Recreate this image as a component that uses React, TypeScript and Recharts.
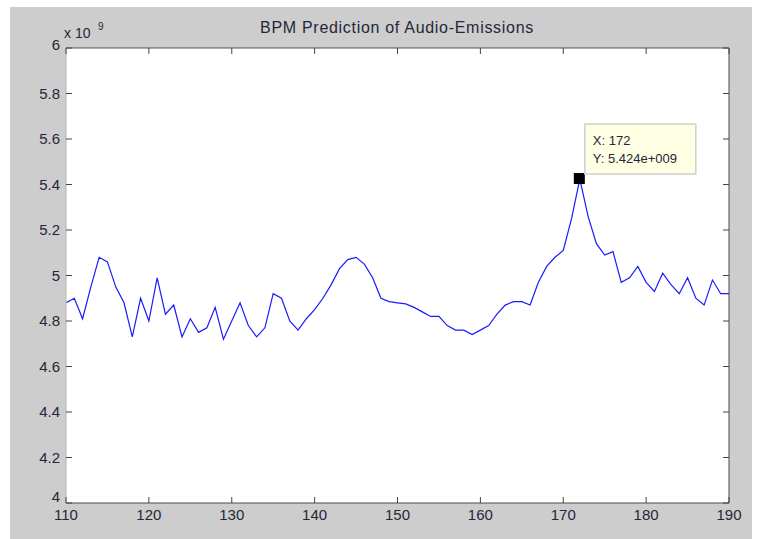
import React from "react";
import {
  LineChart,
  Line,
  XAxis,
  YAxis,
  CartesianGrid,
  ReferenceDot,
} from "recharts";

// BPM axis positions and predicted emission (x 10^9)
const bpm = [
  110, 111, 112, 113, 114, 115, 116, 117, 118, 119, 120, 121, 122, 123, 124,
  125, 126, 127, 128, 129, 130, 131, 132, 133, 134, 135, 136, 137, 138, 139,
  140, 141, 142, 143, 144, 145, 146, 147, 148, 149, 150, 151, 152, 153, 154,
  155, 156, 157, 158, 159, 160, 161, 162, 163, 164, 165, 166, 167, 168, 169,
  170, 171, 172, 173, 174, 175, 176, 177, 178, 179, 180, 181, 182, 183, 184,
  185, 186, 187, 188, 189, 190,
];

const emission = [
  4.88, 4.9, 4.81, 4.95, 5.08, 5.06, 4.95, 4.88, 4.73, 4.9, 4.8, 4.99, 4.83,
  4.87, 4.73, 4.81, 4.75, 4.77, 4.86, 4.72, 4.8, 4.88, 4.78, 4.73, 4.77, 4.92,
  4.9, 4.8, 4.76, 4.81, 4.85, 4.9, 4.96, 5.03, 5.07, 5.08, 5.05, 4.99, 4.9,
  4.885, 4.88, 4.875, 4.86, 4.84, 4.82, 4.82, 4.78, 4.76, 4.76, 4.74, 4.76,
  4.78, 4.83, 4.87, 4.885, 4.885, 4.87, 4.97, 5.04, 5.08, 5.11, 5.25, 5.424,
  5.26, 5.14, 5.09, 5.105, 4.97, 4.99, 5.04, 4.97, 4.93, 5.01, 4.96, 4.92,
  4.99, 4.9, 4.87, 4.98, 4.92, 4.92,
];

const xTicks = [110, 120, 130, 140, 150, 160, 170, 180, 190];
const yTicks = [4, 4.2, 4.4, 4.6, 4.8, 5, 5.2, 5.4, 5.6, 5.8, 6];

// data tip shown in the figure
const tipX = 172;
const tipY = 5.424;

const data = bpm.map((b, i) => ({ bpm: b, value: emission[i] }));

const FONT = "'Liberation Sans', Arial, Helvetica, sans-serif";
const TEXT = "#26263a";
const TICK_LEN = 6;
const TICK_GAP = 6;

const BottomTick = (props: any) => {
  const { x, y, payload } = props;
  const axisY = y - TICK_GAP;
  return (
    <g>
      <line x1={x} x2={x} y1={axisY} y2={axisY - TICK_LEN} stroke="#444" />
      <text
        x={x}
        y={y}
        dy={11}
        textAnchor="middle"
        fontSize={15}
        fontFamily={FONT}
        fill={TEXT}
      >
        {payload.value}
      </text>
    </g>
  );
};

const TopTick = (props: any) => {
  const { x, y } = props;
  const axisY = y + TICK_GAP;
  return (
    <line x1={x} x2={x} y1={axisY} y2={axisY + TICK_LEN} stroke="#444" />
  );
};

const LeftTick = (props: any) => {
  const { x, y, payload } = props;
  const axisX = x + TICK_GAP;
  // the ends of the axis sit a little inside so they clear the title / x labels
  const dy = payload.value === 6 ? 2 : payload.value === 4 ? -1 : 5;
  return (
    <g>
      <line x1={axisX} x2={axisX + TICK_LEN} y1={y} y2={y} stroke="#444" />
      <text
        x={x}
        y={y}
        dy={dy}
        textAnchor="end"
        fontSize={15}
        fontFamily={FONT}
        fill={TEXT}
      >
        {payload.value}
      </text>
    </g>
  );
};

const RightTick = (props: any) => {
  const { x, y } = props;
  const axisX = x - TICK_GAP;
  return (
    <line x1={axisX} x2={axisX - TICK_LEN} y1={y} y2={y} stroke="#444" />
  );
};

const DataTip = (props: any) => {
  const { cx, cy } = props;
  return (
    <g>
      <rect x={cx - 6} y={cy - 6} width={11} height={11} fill="#000" />
      <rect
        x={cx + 5}
        y={cy - 55}
        width={111}
        height={50}
        fill="#ffffe3"
        stroke="#cfcfcf"
        strokeWidth={1.5}
      />
      <text
        x={cx + 13}
        y={cy - 34}
        fontSize={13}
        fontFamily={FONT}
        fill={TEXT}
      >
        X: {tipX}
      </text>
      <text
        x={cx + 13}
        y={cy - 16}
        fontSize={13}
        fontFamily={FONT}
        fill={TEXT}
      >
        Y: 5.424e+009
      </text>
    </g>
  );
};

export default function App() {
  return (
    <div
      style={{
        position: "absolute",
        left: 0,
        top: 0,
        width: 759,
        height: 539,
        background: "#fff",
      }}
    >
      <div
        style={{
          position: "absolute",
          left: 10,
          top: 7,
          width: 742,
          height: 532,
          background: "#cdcdcd",
        }}
      />
      <div style={{ position: "absolute", left: 0, top: 0 }}>
        <LineChart
          width={759}
          height={539}
          data={data}
          margin={{ top: 38, right: 20, bottom: 6, left: 26 }}
        >
          <CartesianGrid horizontal={false} vertical={false} fill="#ffffff" />
          <XAxis
            dataKey="bpm"
            type="number"
            domain={[110, 190]}
            ticks={xTicks}
            allowDataOverflow
            height={30}
            tickSize={0}
            tickMargin={TICK_GAP}
            tickLine={false}
            stroke="#4a4a4a"
            tick={(p: any) => <BottomTick {...p} />}
          />
          <XAxis
            xAxisId="top"
            orientation="top"
            dataKey="bpm"
            type="number"
            domain={[110, 190]}
            ticks={xTicks}
            allowDataOverflow
            height={10}
            tickSize={0}
            tickMargin={TICK_GAP}
            tickLine={false}
            stroke="#555"
            tick={(p: any) => <TopTick {...p} />}
          />
          <YAxis
            type="number"
            domain={[4, 6]}
            ticks={yTicks}
            allowDataOverflow
            width={40}
            tickSize={0}
            tickMargin={TICK_GAP}
            tickLine={false}
            stroke="#b5b5b5"
            tick={(p: any) => <LeftTick {...p} />}
          />
          <YAxis
            yAxisId="right"
            orientation="right"
            type="number"
            domain={[4, 6]}
            ticks={yTicks}
            allowDataOverflow
            width={10}
            tickSize={0}
            tickMargin={TICK_GAP}
            tickLine={false}
            stroke="#4a4a4a"
            tick={(p: any) => <RightTick {...p} />}
          />
          <Line
            type="linear"
            dataKey="value"
            stroke="#1a1aff"
            strokeWidth={1.2}
            dot={false}
            isAnimationActive={false}
          />
          <ReferenceDot
            x={tipX}
            y={tipY}
            r={5}
            shape={(p: any) => <DataTip {...p} />}
          />
          <text
            x={397}
            y={33}
            textAnchor="middle"
            fontSize={16}
            letterSpacing={0.7}
            fontFamily={FONT}
            fill={TEXT}
          >
            BPM Prediction of Audio-Emissions
          </text>
          <text x={64} y={38} fontSize={14} fontFamily={FONT} fill={TEXT}>
            x 10
          </text>
          <text x={98} y={30} fontSize={10} fontFamily={FONT} fill={TEXT}>
            9
          </text>
        </LineChart>
      </div>
    </div>
  );
}
